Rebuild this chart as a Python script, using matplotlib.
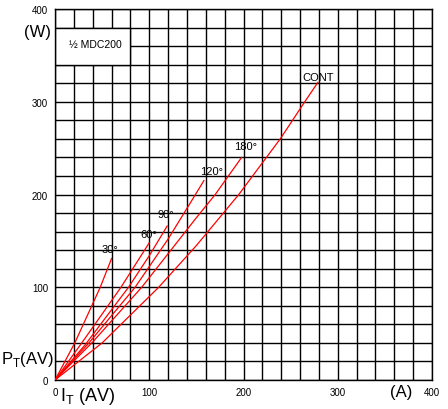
import numpy as np
import matplotlib
matplotlib.use("Agg")
import matplotlib.pyplot as plt
from matplotlib.patches import Rectangle

plt.rcParams['font.family'] = ['Liberation Sans Narrow', 'Liberation Sans', 'DejaVu Sans']

# curves: I_T(AV) [A] -> P_T(AV) [W]
i_30 = [0, 21, 48, 60]
p_30 = [0, 40, 100, 131]
i_60 = [0, 27, 70, 100]
p_60 = [0, 38, 100, 148]
i_90 = [0, 32, 78, 100, 119]
p_90 = [0, 38, 100, 134, 166]
i_120 = [0, 36, 85, 120, 149, 158]
p_120 = [0, 40, 100, 152, 200, 215]
i_180 = [0, 40, 92, 150, 170, 198]
p_180 = [0, 41, 100, 175, 200, 240]
i_cont = [0, 50, 110, 150, 195, 239, 265, 279]
p_cont = [0, 40, 100, 145, 200, 260, 300, 321]

curve_names = ["30°", "60°", "90°", "120°", "180°", "CONT"]
curve_i = [i_30, i_60, i_90, i_120, i_180, i_cont]
curve_p = [p_30, p_60, p_90, p_120, p_180, p_cont]
# where each curve label sits (data coords)
label_x = [58, 99, 118, 166, 202, 279]
label_y = [141, 157, 179, 225, 252, 327]

ticks = np.arange(0, 401, 20)
tick_labels = [str(t) if t % 100 == 0 else "" for t in ticks]

fig = plt.figure(figsize=(4.48, 4.10), dpi=100)
ax = fig.add_axes([0.1228, 0.0707, 0.8415, 0.9049])
ax.set_xlim(0, 400)
ax.set_ylim(0, 400)

ax.set_xticks(ticks)
ax.set_yticks(ticks)
ax.set_xticklabels(tick_labels, fontsize=7, family=['Liberation Sans', 'DejaVu Sans'])
ax.set_yticklabels(tick_labels, fontsize=7, family=['Liberation Sans', 'DejaVu Sans'])
ax.tick_params(axis='both', length=0)
ax.tick_params(axis='x', pad=5)
ax.tick_params(axis='y', pad=5)
ax.grid(True, color='black', lw=1.0)
ax.set_axisbelow(True)
for s in ax.spines.values():
    s.set_linewidth(1.0)

# legend box covering the grid
ax.add_patch(Rectangle((0, 340), 80, 40, facecolor='white', edgecolor='black',
                       lw=1.0, zorder=2))
ax.text(43, 362, "½ MDC200", fontsize=7.5, ha='center', va='center', zorder=3)

for ii, pp in zip(curve_i, curve_p):
    ax.plot(ii, pp, color='red', lw=0.9, zorder=4)

for name, lx, ly in zip(curve_names, label_x, label_y):
    ax.text(lx, ly, name, fontsize=8, ha='center', va='center', zorder=5)

# axis titles placed like the original sheet
fig.text(37.5 / 448, 1 - 33 / 410, "(W)", fontsize=12, ha='center', va='center')
fig.text(1 / 448, 1 - 360 / 410, "P$_\\mathregular{T}$(AV)", fontsize=12,
         ha='left', va='center')
fig.text(60 / 448, 1 - 397 / 410, "I$_\\mathregular{T}$ (AV)", fontsize=13,
         ha='left', va='center')
fig.text(401 / 448, 1 - 393 / 410, "(A)", fontsize=12, ha='center', va='center')

fig.savefig("out.png", dpi=100)
